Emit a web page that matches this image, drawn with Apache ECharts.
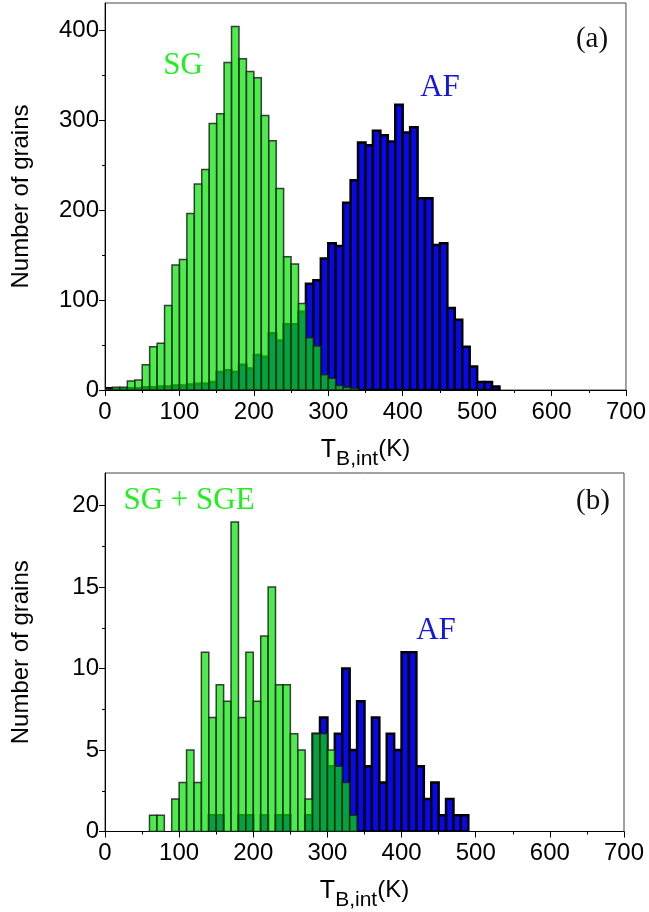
<!DOCTYPE html>
<html>
<head>
<meta charset="utf-8">
<script src="https://cdn.jsdelivr.net/npm/echarts@6/dist/echarts.min.js"></script>
<style>
  html, body { margin: 0; padding: 0; background: #fff; }
  #chart { width: 649px; height: 912px; }
</style>
</head>
<body>
<div id="chart"></div>
<script>
// Bin width of both histograms (K)
const BIN = 10;

// Panel (a): SG grains
const sgStartsA = [0, 10, 20, 30, 40, 50, 60, 70, 80, 90, 100, 110, 120, 130, 140, 150, 160, 170, 180, 190,
                   200, 210, 220, 230, 240, 250, 260, 270, 280, 290, 300, 310, 320, 330];
const sgCountsA = [1, 3, 3, 10, 11, 28, 48, 52, 94, 139, 145, 196, 229, 245, 296, 307, 364, 404, 368, 354,
                   347, 305, 277, 224, 148, 140, 96, 58, 49, 17, 13, 5, 3, 2];

// Panel (a): AF grains
const afStartsA = [0, 10, 20, 30, 40, 50, 60, 70, 80, 90, 100, 110, 120, 130, 140, 150, 160, 170, 180, 190,
                   200, 210, 220, 230, 240, 250, 260, 270, 280, 290, 300, 310, 320, 330, 340, 350, 360, 370,
                   380, 390, 400, 410, 420, 430, 440, 450, 460, 470, 480, 490, 500, 510, 520];
const afCountsA = [2, 1, 1, 2, 2, 3, 3, 4, 4, 5, 5, 6, 7, 7, 9, 20, 22, 20, 28, 24,
                   39, 37, 63, 55, 73, 73, 87, 118, 122, 146, 163, 160, 208, 233, 275, 272, 288, 283,
                   276, 317, 286, 292, 213, 213, 161, 163, 91, 78, 48, 26, 9, 9, 4];

// Panel (b): SG + SGE grains
const sgStartsB = [60, 70, 90, 100, 110, 120, 130, 140, 150, 160, 170, 180, 190, 200, 210, 220, 230, 240,
                   250, 260, 270, 280, 290, 300, 310, 320, 330];
const sgCountsB = [1, 1, 2, 3, 5, 3, 11, 7, 9, 8, 19, 7, 11, 8, 12, 15, 9, 9,
                   6, 5, 2, 6, 6, 5, 4, 3, 1];

// Panel (b): AF grains
const afStartsB = [140, 150, 180, 190, 210, 230, 240, 270, 280, 290, 300, 310, 320, 330, 340, 350, 360, 370,
                   380, 390, 400, 410, 420, 430, 440, 450, 460, 470, 480];
const afCountsB = [1, 1, 1, 1, 1, 1, 1, 1, 6, 7, 4, 6, 10, 5, 8, 4, 7, 3,
                   6, 5, 11, 11, 4, 2, 3, 1, 2, 1, 1];

// Axis ticks
const yTicksA = [0, 100, 200, 300, 400];
const yMinorA = [50, 150, 250, 350];
const yTicksB = [0, 5, 10, 15, 20];
const yMinorB = [2.5, 7.5, 12.5, 17.5];

const SANS = 'Liberation Sans, Arial, sans-serif';
const SERIF = 'Liberation Serif, Times New Roman, serif';

const chart = echarts.init(document.getElementById('chart'), null, { renderer: 'canvas' });

// One rectangle per bin, placed through the axes of the given grid
function histSeries(starts, counts, gridIdx, fill, stroke, lw) {
  return {
    type: 'custom',
    xAxisIndex: gridIdx,
    yAxisIndex: gridIdx * 2,
    clip: true,
    encode: { x: [0, 1], y: 2 },
    data: starts.map((s, i) => [s, s + BIN, counts[i]]),
    renderItem: function (params, api) {
      const v = api.value(2);
      if (!v) return null;
      const p0 = api.coord([api.value(0), v]);
      const p1 = api.coord([api.value(1), 0]);
      return {
        type: 'rect',
        shape: { x: p0[0], y: p0[1], width: p1[0] - p0[0], height: p1[1] - p0[1] },
        style: { fill: fill, stroke: stroke, lineWidth: lw }
      };
    }
  };
}

function xAxisFor(gridIdx) {
  return {
    type: 'value', gridIndex: gridIdx, min: 0, max: 700, interval: 100,
    axisLine: { show: true, lineStyle: { color: '#000', width: 1 } },
    axisTick: { show: true, inside: false, length: 6, lineStyle: { color: '#000' } },
    minorTick: { show: true, splitNumber: 2, length: 3, lineStyle: { color: '#000' } },
    axisLabel: { color: '#000', fontFamily: SANS, fontSize: 24, margin: 10 },
    splitLine: { show: false },
    name: '{t|T}{s|B,int}{k|(K)}',
    nameLocation: 'middle',
    nameGap: 47,
    nameTextStyle: {
      rich: {
        t: { fontFamily: SANS, fontSize: 25, color: '#000', padding: [0, 0, 8, 0] },
        s: { fontFamily: SANS, fontSize: 21, color: '#000', padding: [10, 0, 0, 0] },
        k: { fontFamily: SANS, fontSize: 24, color: '#000', padding: [0, 0, 10, 0] }
      }
    }
  };
}

function yAxesFor(gridIdx, max, ticks, minor) {
  return [{
    type: 'value', gridIndex: gridIdx, min: 0, max: max, position: 'left',
    axisLine: { show: true, lineStyle: { color: '#000', width: 1 } },
    axisTick: { show: true, inside: false, length: 6, customValues: ticks, lineStyle: { color: '#000' } },
    axisLabel: { color: '#000', fontFamily: SANS, fontSize: 24, margin: 6, customValues: ticks },
    splitLine: { show: false },
    name: 'Number of grains',
    nameLocation: 'middle',
    nameGap: 72,
    nameTextStyle: { fontFamily: SANS, fontSize: 24, color: '#000' }
  }, {
    type: 'value', gridIndex: gridIdx, min: 0, max: max, position: 'left',
    axisLine: { show: false },
    axisTick: { show: true, inside: false, length: 3, customValues: minor, lineStyle: { color: '#000' } },
    axisLabel: { show: false },
    splitLine: { show: false }
  }];
}

function label(text, x, y, color, size) {
  return {
    type: 'text', x: x, y: y, z: 100,
    style: { text: text, fill: color, font: size + 'px ' + SERIF, align: 'center', verticalAlign: 'middle' }
  };
}

const GREEN_FILL = 'rgba(0, 228, 0, 0.7)';
const GREEN_EDGE = 'rgba(30, 30, 30, 0.85)';
const BLUE_FILL = '#0808f0';

chart.setOption({
  animation: false,
  backgroundColor: '#fff',
  grid: [
    { left: 105, right: 20, top: 3, height: 387, show: true, borderColor: '#444', borderWidth: 1, backgroundColor: 'transparent' },
    { left: 105, right: 25, top: 473, height: 367, show: true, borderColor: '#444', borderWidth: 1, backgroundColor: 'transparent' }
  ],
  xAxis: [xAxisFor(0), xAxisFor(1)],
  yAxis: yAxesFor(0, 430, yTicksA, yMinorA).concat(yAxesFor(1, 22, yTicksB, yMinorB)),
  series: [
    histSeries(afStartsA, afCountsA, 0, BLUE_FILL, '#000', 2.5),
    histSeries(sgStartsA, sgCountsA, 0, GREEN_FILL, GREEN_EDGE, 1.5),
    histSeries(afStartsB, afCountsB, 1, BLUE_FILL, '#000', 2.5),
    histSeries(sgStartsB, sgCountsB, 1, GREEN_FILL, GREEN_EDGE, 1.5)
  ],
  graphic: [
    label('SG', 183, 66, '#22ee22', 31),
    label('AF', 440, 88, '#1515e0', 31),
    label('(a)', 592, 39, '#111', 29),
    label('SG + SGE', 189, 501, '#22ee22', 31),
    label('AF', 436, 631, '#1515e0', 31),
    label('(b)', 593, 501, '#111', 29)
  ]
});
</script>
</body>
</html>
